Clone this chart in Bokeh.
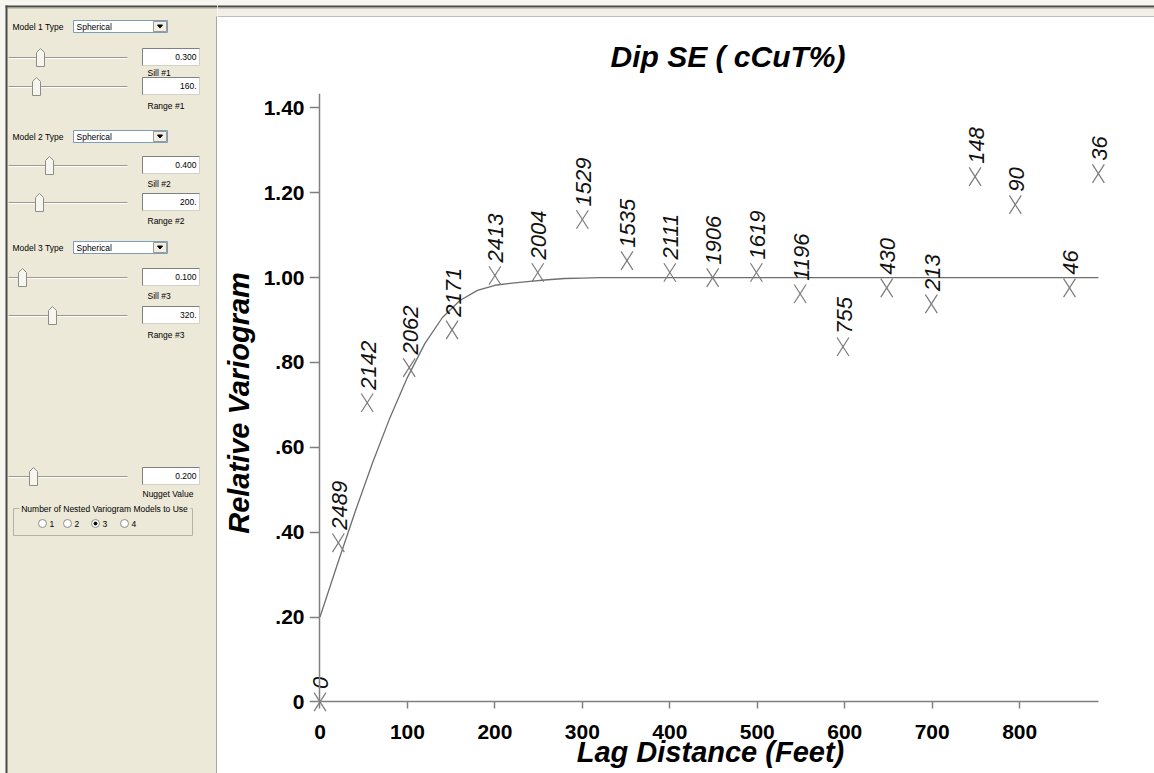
import math
from bokeh.plotting import figure
from bokeh.layouts import row, column
from bokeh.models import (Range1d, FixedTicker, CustomJSTickFormatter, ColumnDataSource,
                          LinearAxis)
from bokeh.core.properties import value
from bokeh.embed import file_html
from bokeh.resources import INLINE

# ---------------- data ----------------
lags = [0, 21, 54, 102, 151, 200, 249, 300, 351, 400, 449, 499, 549, 598, 648, 699, 749, 795, 857, 890]
gammas = [0.0, 0.375, 0.705, 0.788, 0.877, 1.005, 1.012, 1.137, 1.040, 1.012, 1.000, 1.012,
          0.962, 0.837, 0.976, 0.938, 1.238, 1.172, 0.976, 1.245]
pair_counts = [0, 2489, 2142, 2062, 2171, 2413, 2004, 1529, 1535, 2111, 1906, 1619,
               1196, 755, 430, 213, 148, 90, 46, 36]

model_lags = [0, 20, 40, 60, 80, 100, 120, 140, 160, 180, 200, 220, 240, 260, 280, 300, 320, 890]
model_gamma = [0.200, 0.325, 0.447, 0.563, 0.670, 0.765, 0.845, 0.906, 0.946, 0.970, 0.982,
               0.987, 0.991, 0.995, 0.998, 0.999, 1.000, 1.000]

x_ticks = [0, 100, 200, 300, 400, 500, 600, 700, 800]
y_ticks = [0, 0.2, 0.4, 0.6, 0.8, 1.0, 1.2, 1.4]
y_tick_labels = ["0", ".20", ".40", ".60", ".80", "1.00", "1.20", "1.40"]

chart_title = "Dip SE ( cCuT%)"
x_label = "Lag Distance (Feet)"
y_label = "Relative Variogram"

model_types = ["Spherical", "Spherical", "Spherical"]
sill_texts = ["0.300", "0.400", "0.100"]
range_texts = ["160.", "200.", "320."]
nugget_text = "0.200"
nested_options = ["1", "2", "3", "4"]
nested_selected = "3"
group_title = "Number of Nested Variogram Models to Use"

# ---------------- left control panel ----------------
PANEL_BG = "#ECE9D8"
EDGE_BG = "#F7F6F1"
DARK = "#4A4A4A"
BOX_EDGE = "#8C8C8C"
UI_FONT = value("Liberation Sans")
UI_SIZE = "8.5px"

lp = figure(width=217, height=773, x_range=Range1d(0, 217), y_range=Range1d(773, 0),
            x_axis_type=None, y_axis_type=None, toolbar_location=None, output_backend="svg",
            min_border=0, background_fill_color=PANEL_BG, border_fill_color=PANEL_BG,
            outline_line_color=None)

# window edges
lp.quad(left=[0, 0], right=[217, 5], top=[0, 0], bottom=[5, 773], fill_color=EDGE_BG, line_color=None)
lp.quad(left=[5, 5], right=[217, 7], top=[5, 5], bottom=[7, 773], fill_color=DARK, line_color=None)
lp.quad(left=[7], right=[217], top=[7], bottom=[8], fill_color="#A8A698", line_color=None)
# chart box border (left edge)
lp.quad(left=[215.8], right=[217], top=[16], bottom=[773], fill_color=BOX_EDGE, line_color=None)


def ui_text(xs, ys, texts, align="left", color="#000000"):
    lp.text(xs, ys, text=texts, text_font=UI_FONT, text_font_size=UI_SIZE,
            text_align=align, text_baseline="middle", text_color=color)

# model type rows
model_y = [26, 136, 247]
ui_text([12] * 3, model_y, [f"Model {i+1} Type" for i in range(3)])
lp.quad(left=[73] * 3, right=[167] * 3, top=[y - 6 for y in model_y], bottom=[y + 6 for y in model_y],
        fill_color="white", line_color="#7F9DB9", line_width=1)
ui_text([76] * 3, model_y, model_types)
lp.quad(left=[153] * 3, right=[166] * 3, top=[y - 5 for y in model_y], bottom=[y + 5 for y in model_y],
        fill_color="#F1EFE2", line_color="#9A9A9A", line_width=1)
lp.patches([[157, 162, 159.5] for _ in model_y], [[y - 1.5, y - 1.5, y + 1.5] for y in model_y],
           fill_color="black", line_color="black")

# sliders + edit boxes: (track y, thumb x, box text, caption, caption x, caption y)
slider_rows = [
    (57, 40, sill_texts[0], "Sill #1", 147, 72),
    (86, 36, range_texts[0], "Range #1", 147, 105),
    (165, 49, sill_texts[1], "Sill #2", 147, 183),
    (202, 39, range_texts[1], "Range #2", 147, 220),
    (277, 22, sill_texts[2], "Sill #3", 147, 295),
    (315, 52, range_texts[2], "Range #3", 147, 334),
    (476, 33, nugget_text, "Nugget Value", 142, 493),
]
n = len(slider_rows)
ty = [r[0] for r in slider_rows]
tx = [r[1] for r in slider_rows]
lp.segment(x0=[8] * n, y0=ty, x1=[127] * n, y1=ty, line_color="#9C9A8C", line_width=1)
lp.segment(x0=[8] * n, y0=[y + 1 for y in ty], x1=[127] * n, y1=[y + 1 for y in ty],
           line_color="#FFFFFF", line_width=1)
lp.patches([[x - 4, x - 4, x, x + 4, x + 4] for x in tx],
           [[y + 9, y - 5, y - 9, y - 5, y + 9] for x, y in zip(tx, ty)],
           fill_color="#F6F5EF", line_color="#8E8E86", line_width=1)
lp.quad(left=[142] * n, right=[199] * n, top=[y - 9 for y in ty], bottom=[y + 8 for y in ty],
        fill_color="white", line_color="#D4D0C8", line_width=1)
lp.segment(x0=[142] * n, y0=[y - 9 for y in ty], x1=[199] * n, y1=[y - 9 for y in ty],
           line_color="#808080", line_width=1)
lp.segment(x0=[142] * n, y0=[y - 9 for y in ty], x1=[142] * n, y1=[y + 8 for y in ty],
           line_color="#808080", line_width=1)
ui_text([196] * n, [y - 0.5 for y in ty], [r[2] for r in slider_rows], align="right")
ui_text([r[4] for r in slider_rows], [r[5] for r in slider_rows], [r[3] for r in slider_rows])

# group box for nested models
lp.quad(left=[13], right=[192], top=[508], bottom=[535], fill_color=None,
        line_color="#B5B2A4", line_width=1)
lp.quad(left=[19], right=[190], top=[503], bottom=[513], fill_color=PANEL_BG, line_color=None)
lp.text([104], [508], text=[group_title], text_font=UI_FONT, text_font_size=UI_SIZE,
        text_align="center", text_baseline="middle", text_color="#000000")
radio_x = [42, 67, 95, 124]
lp.scatter(radio_x, [523] * 4, marker="circle", size=8, fill_color="white",
           line_color="#8E8E86", line_width=1)
sel = [x for x, o in zip(radio_x, nested_options) if o == nested_selected]
lp.scatter(sel, [523] * len(sel), marker="circle", size=3, fill_color="black", line_color="black")
ui_text([x + 7 for x in radio_x], [523] * 4, nested_options)

# strip above the chart box
strip = figure(width=937, height=17, x_range=Range1d(0, 937), y_range=Range1d(17, 0),
               x_axis_type=None, y_axis_type=None, toolbar_location=None, output_backend="svg",
               min_border=0, background_fill_color="#F1EFE6", border_fill_color="#F1EFE6",
               outline_line_color=None)
strip.quad(left=[0, 0, 0, 0], right=[937] * 4, top=[0, 5, 7, 16], bottom=[5, 7, 8, 17.2],
           fill_color=[EDGE_BG, DARK, "#A8A698", BOX_EDGE], line_color=None)

# ---------------- chart ----------------
FONT = "Liberation Sans"
p = figure(width=937, height=756, x_range=Range1d(-12, 905), y_range=Range1d(-0.025, 1.434),
           toolbar_location=None, output_backend="svg",
           min_border_left=92, min_border_right=43, min_border_top=76, min_border_bottom=61,
           background_fill_color="white", border_fill_color="white", outline_line_color=None,
           title=chart_title)
for f in (lp, strip, p):
    f.frame_align = False

p.title.text_font = FONT
p.title.text_font_style = "bold italic"
p.title.text_font_size = "30px"
p.title.align = "left"
p.title.offset = 301
p.title.standoff = 41
p.title.text_color = "black"

p.xgrid.grid_line_color = None
p.ygrid.grid_line_color = None

y_formatter = CustomJSTickFormatter(
    args=dict(yt=y_ticks, yl=y_tick_labels),
    code="for (let i = 0; i < yt.length; i++) { if (Math.abs(yt[i] - tick) < 1e-9) return yl[i]; } return '';")

# label axes (frame edges): tick labels + axis titles only
xa = p.xaxis[0]
ya = p.yaxis[0]
xa.ticker = FixedTicker(ticks=x_ticks)
ya.ticker = FixedTicker(ticks=y_ticks)
ya.formatter = y_formatter
xa.bounds = (0, 905)
ya.bounds = (0, 1.434)
xa.axis_label = x_label
ya.axis_label = y_label
for ax in (xa, ya):
    ax.axis_line_color = None
    ax.major_tick_line_color = None
    ax.minor_tick_line_color = None
    ax.major_tick_out = 0
    ax.major_tick_in = 0
    ax.minor_tick_out = 0
    ax.major_label_text_font = FONT
    ax.major_label_text_font_style = "bold"
    ax.major_label_text_font_size = "21px"
    ax.major_label_text_color = "black"
    ax.axis_label_text_font = FONT
    ax.axis_label_text_font_style = "bold italic"
    ax.axis_label_text_font_size = "29px"
    ax.axis_label_text_color = "black"
xa.major_label_standoff = 12
ya.major_label_standoff = 5
xa.axis_label_standoff = -6
ya.axis_label_standoff = 6

# axis lines + ticks crossing at the origin
x_rule = LinearAxis(fixed_location=0, ticker=FixedTicker(ticks=x_ticks), bounds=(0, max(lags)),
                    major_label_text_color=None, axis_line_color="#808080", axis_line_width=1.5,
                    major_tick_line_color="#808080", major_tick_line_width=1.5,
                    major_tick_in=0, major_tick_out=7, minor_tick_line_color=None)
y_rule = LinearAxis(fixed_location=0, ticker=FixedTicker(ticks=y_ticks), bounds=(0, 1.434),
                    major_label_text_color=None, axis_line_color="#808080", axis_line_width=1.5,
                    major_tick_line_color="#808080", major_tick_line_width=1.5,
                    major_tick_in=0, major_tick_out=10, minor_tick_line_color=None)
p.add_layout(x_rule, "below")
p.add_layout(y_rule, "left")

p.line(model_lags, model_gamma, line_color="#6E6E6E", line_width=1.3)

src = ColumnDataSource(dict(x=lags, y=gammas, lab=[str(c) for c in pair_counts]))
# tall "X" marks: two rotated dashes per point
for ang in (1.0, -1.0):
    p.scatter("x", "y", source=src, marker="dash", size=22, angle=ang,
              line_color="#7A7A7A", line_width=1.2)
p.text("x", "y", text="lab", source=src, angle=math.pi / 2, text_align="left",
       text_baseline="middle", x_offset=1, y_offset=-13, text_font=value(FONT),
       text_font_style="italic", text_font_size="22px", text_color="#111111")

layout = row(lp, column(strip, p))
open("out.html", "w").write(file_html(layout, INLINE))
